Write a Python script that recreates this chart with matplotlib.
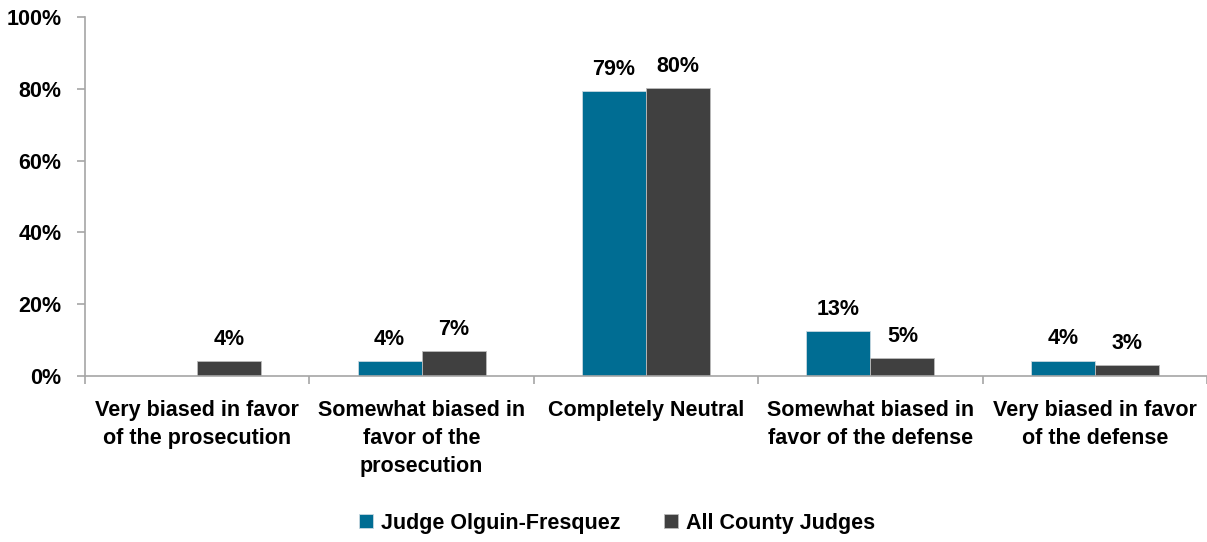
import matplotlib

matplotlib.use("Agg")

import matplotlib.pyplot as plt
import numpy as np
from matplotlib import font_manager

categories = [
    "Very biased in favor\nof the prosecution",
    "Somewhat biased in\nfavor of the\nprosecution",
    "Completely Neutral",
    "Somewhat biased in\nfavor of the defense",
    "Very biased in favor\nof the defense",
]
series_names = ["Judge Olguin-Fresquez", "All County Judges"]
judge_values = [0.0, 4.2, 79.4, 12.6, 4.3]
county_values = [4.2, 7.0, 80.2, 5.1, 3.0]
judge_labels = ["", "4%", "79%", "13%", "4%"]
county_labels = ["4%", "7%", "80%", "5%", "3%"]
y_ticks = [0, 20, 40, 60, 80, 100]

TEAL = "#006d93"
GRAY = "#404040"
AXIS = "#a6a6a6"
FS = 15.5

available = {f.name for f in font_manager.fontManager.ttflist}
family = "Liberation Sans Narrow" if "Liberation Sans Narrow" in available else "Liberation Sans"
plt.rcParams["font.family"] = [family, "DejaVu Sans"]
plt.rcParams["font.weight"] = "bold"

fig = plt.figure(figsize=(12.07, 5.42), dpi=100)
ax = fig.add_axes([85 / 1207, 1 - 376 / 542, (1207 - 85) / 1207, (376 - 17) / 542])

x = np.arange(len(categories))
width = 0.285
bars_a = ax.bar(x - width / 2, judge_values, width, color=TEAL, edgecolor="#c8d8e0", linewidth=0.6,
                label=series_names[0])
bars_b = ax.bar(x + width / 2, county_values, width, color=GRAY, edgecolor="#bbbbbb", linewidth=0.6,
                label=series_names[1])

for bars, labels in ((bars_a, judge_labels), (bars_b, county_labels)):
    for bar, text in zip(bars, labels):
        if not text:
            continue
        ax.annotate(text, (bar.get_x() + bar.get_width() / 2, bar.get_height()),
                    xytext=(0, 8), textcoords="offset points", ha="center", va="bottom",
                    fontsize=FS, fontweight="bold")

ax.set_xlim(-0.5, len(categories) - 0.5)
ax.set_ylim(0, 100)
ax.set_yticks(y_ticks, labels=[f"{v}%" for v in y_ticks])
ax.set_xticks(np.arange(len(categories) + 1) - 0.5, labels=[""] * (len(categories) + 1))
ax.set_xticks(x, labels=categories, minor=True)
ax.tick_params(axis="x", which="minor", length=0, pad=17, labelsize=FS)
ax.tick_params(axis="x", which="major", length=6, color=AXIS, width=1.2)
ax.tick_params(axis="y", length=6, color=AXIS, width=1.2, labelsize=FS, pad=11)
for label in ax.get_xticklabels(minor=True):
    label.set_fontweight("bold")
    label.set_linespacing(1.45)
    label.set_va("top")
for label in ax.get_yticklabels():
    label.set_fontweight("bold")

for side in ("top", "right"):
    ax.spines[side].set_visible(False)
for side in ("left", "bottom"):
    ax.spines[side].set_color(AXIS)
    ax.spines[side].set_linewidth(1.2)

fig.legend(handles=[bars_a, bars_b], labels=series_names, loc="center", bbox_to_anchor=(617 / 1207, 1 - 523 / 542),
           ncol=2, frameon=False, handlelength=0.65, handleheight=0.65, handletextpad=0.4,
           columnspacing=2.0, prop={"weight": "bold", "size": FS})

fig.savefig("out.png", dpi=100)
